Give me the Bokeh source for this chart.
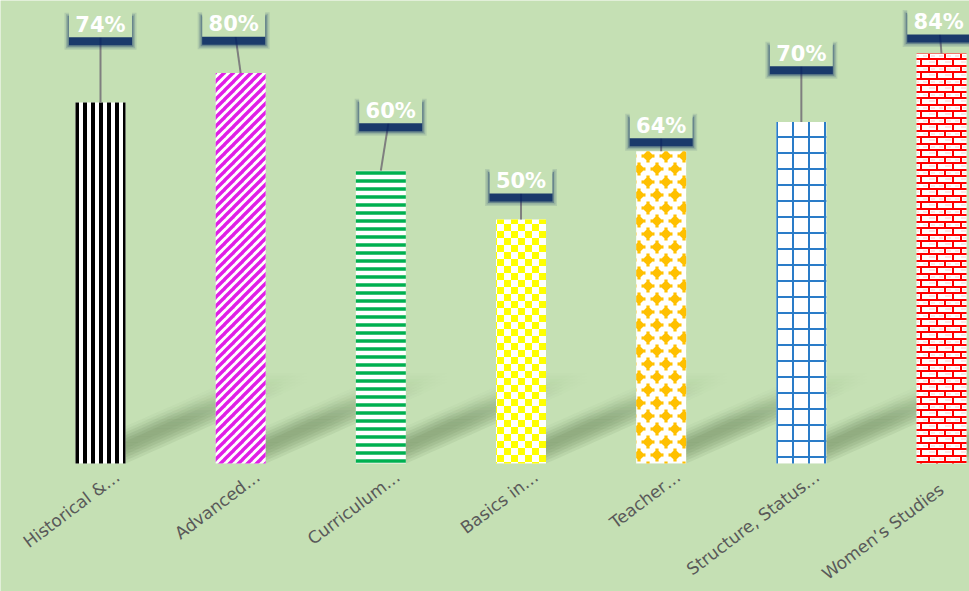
from bokeh.plotting import figure
from bokeh.models import Range1d, ColumnDataSource, CanvasTexture
from bokeh.embed import file_html
from bokeh.resources import INLINE
from bokeh.core.properties import value

# ---------------- data ----------------
categories = ["Historical &…", "Advanced…", "Curriculum…", "Basics in…",
              "Teacher…", "Structure, Status…", "Women’s Studies"]
percent = [74, 80, 60, 50, 64, 70, 84]
value_labels = ["74%", "80%", "60%", "50%", "64%", "70%", "84%"]

# ---------------- layout / style ----------------
FIG_W, FIG_H = 969, 591
X0, X1 = -0.7134, 6.1996
Y0, Y1 = -26.23, 94.88
SX = FIG_W / (X1 - X0)   # px per category unit
SY = FIG_H / (Y1 - Y0)   # px per percent
BG = "#C5E0B4"
BAR_W = 50 / SX

# data-label box positions (manually placed in the original)
label_dx = [0.0, -0.05, 0.07, 0.0, 0.0, 0.0, -0.02]
label_y = [90.2, 90.3, 72.6, 58.2, 69.5, 84.3, 90.8]
# category label anchor shifts in px (x right, y down)
cat_shift = [(17, 11), (17, 11), (17, 11), (15, 11), (17, 11), (16, 11), (0, 24)]

hatch_patterns = ["vertical_line", "diag", "horizontal_line",
                  "checker", "blobs", "cross", "bricks"]
hatch_colors = ["#000000", "#E01EE6", "#00B050", "#FFFF00", "#FFC000", "#2A7CC8", "#FF0000"]
hatch_scales = [8, 9, 8, 14, 18, 16, 16]
hatch_weights = [4, 3.4, 3.5, 1, 1, 2, 2]

diag = CanvasTexture(code="""
const w = 9;
ctx.canvas.width = w; ctx.canvas.height = w;
ctx.strokeStyle = "#E01EE6";
ctx.lineWidth = 3.4;
for (const o of [-w, 0, w]) {
  ctx.beginPath();
  ctx.moveTo(o - 1, w + 1);
  ctx.lineTo(o + w + 1, -1);
  ctx.stroke();
}
""")

checker = CanvasTexture(code="""
const s = 7;
ctx.canvas.width = 2 * s; ctx.canvas.height = 2 * s;
ctx.fillStyle = "#FFFF00";
ctx.fillRect(0, 0, s, s);
ctx.fillRect(s, s, s, s);
""")

blobs = CanvasTexture(code="""
const w = 18, h = 26;
ctx.canvas.width = w; ctx.canvas.height = h;
ctx.fillStyle = "#FFC000";
function blob(cx, cy) {
  ctx.beginPath();
  ctx.arc(cx, cy, 4.3, 0, 2 * Math.PI);
  ctx.fill();
  ctx.fillRect(cx - 1.6, cy - 6.5, 3.2, 13);
  ctx.fillRect(cx - 6.5, cy - 1.6, 13, 3.2);
}
blob(0, 0); blob(w, 0); blob(0, h); blob(w, h);
blob(w / 2, h / 2);
""")

bricks = CanvasTexture(code="""
const w = 16, h = 13;
ctx.canvas.width = w; ctx.canvas.height = h;
ctx.fillStyle = "#FFE4E4";
ctx.fillRect(3, 3, 4, 2); ctx.fillRect(11, 3, 4, 2);
ctx.fillRect(1, 9, 6, 2);
ctx.fillStyle = "#FF0000";
ctx.fillRect(0, 0, w, 2);
ctx.fillRect(0, 6, w, 2);
ctx.fillRect(0, 0, 2, 7);
ctx.fillRect(8, 6, 2, 7);
""")

hatch_extra = {"diag": diag, "checker": checker, "blobs": blobs, "bricks": bricks}

p = figure(width=FIG_W, height=FIG_H, output_backend="svg", toolbar_location=None,
           x_range=Range1d(X0, X1), y_range=Range1d(Y0, Y1),
           min_border=0, min_border_left=0, min_border_right=0,
           min_border_top=0, min_border_bottom=0)
p.xaxis.visible = False
p.yaxis.visible = False
p.grid.visible = False
p.outline_line_color = None
p.background_fill_color = BG
p.border_fill_color = BG

xs = list(range(len(categories)))

# ---------------- floor shadows ----------------
SH_DX, SH_DY = 185 / SX, 82 / SY
N = 14
sh_xs, sh_ys, sh_alpha = [], [], []
for xc in xs:
    hw = BAR_W / 2
    for off_px, w_l in [(0, 0.07), (3, 0.08), (6, 0.08), (9, 0.07), (12, 0.05), (15, 0.03)]:
        o = off_px / SY
        for j in range(N):
            t0, t1 = j / N, (j + 1) / N
            tm = (t0 + t1) / 2
            prof = 1.0 if tm < 0.45 else max(0.0, 1 - (tm - 0.45) / 0.55) ** 1.3
            sh_xs.append([xc - hw + SH_DX * t0, xc + hw + SH_DX * t0,
                          xc + hw + SH_DX * t1, xc - hw + SH_DX * t1])
            sh_ys.append([SH_DY * t0 + o, SH_DY * t0 + o, SH_DY * t1 + o, SH_DY * t1 + o])
            sh_alpha.append(w_l * prof)
p.patches(sh_xs, sh_ys, fill_color="#2F4A22", fill_alpha=sh_alpha, line_color=None)

# ---------------- bars ----------------
src = ColumnDataSource(dict(x=xs, top=percent, hp=hatch_patterns, hc=hatch_colors,
                            hs=hatch_scales, hw=hatch_weights))
p.vbar(x="x", top="top", bottom=0, width=BAR_W, source=src,
       fill_color="white", line_color=None,
       hatch_pattern="hp", hatch_color="hc", hatch_scale="hs", hatch_weight="hw",
       hatch_extra=hatch_extra)

# ---------------- data labels ----------------
lx = [x + d for x, d in zip(xs, label_dx)]
p.segment(x0=lx, y0=label_y, x1=xs, y1=percent, line_color="#7F7F7F", line_width=2)

sh_off = 8 / SY
sy_ = [y - sh_off for y in label_y]
for grow, a in [(9, 0.1), (6, 0.15), (3, 0.3), (0, 0.75)]:
    p.rect(x=lx, y=sy_, width=63 + grow, height=28 + grow,
           width_units="screen", height_units="screen",
           fill_color="#002060", fill_alpha=a, line_color=None)
p.rect(x=lx, y=label_y, width=63, height=28, width_units="screen", height_units="screen",
       fill_color=BG, line_color=None)
ty = [y - 1.5 / SY for y in label_y]
p.text(x=lx, y=ty, text=value_labels, text_align="center", text_baseline="middle",
       text_color="white", text_font=value("DejaVu Sans"), text_font_style="bold",
       text_font_size="21px")

# ---------------- category labels ----------------
cx = [x + s[0] / SX for x, s in zip(xs, cat_shift)]
cy = [-s[1] / SY for s in cat_shift]
p.text(x=cx, y=cy, text=categories, angle=0.645, text_align="right", text_baseline="middle",
       text_color="#595959", text_font=value("DejaVu Sans"), text_font_size="17px")

html = file_html(p, INLINE, title="Chart")
html = html.replace("<body>", '<body style="background-color:%s;">' % BG, 1)
open("out.html", "w").write(html)
